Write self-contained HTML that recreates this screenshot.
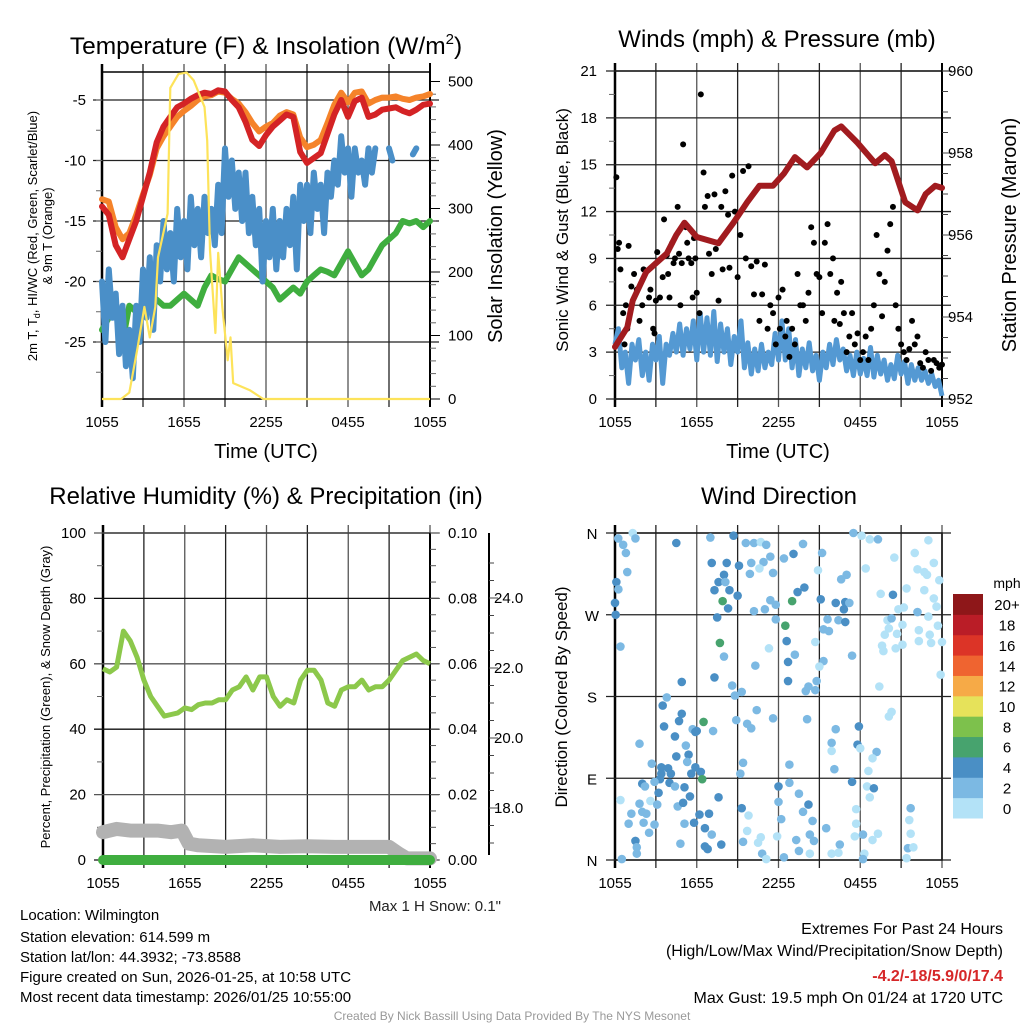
<!DOCTYPE html>
<html><head><meta charset="utf-8"><style>
html,body{margin:0;padding:0;background:#fff;}
svg{display:block;font-family:"Liberation Sans",Arial,sans-serif;}
</style></head><body>
<svg id="s" width="1024" height="1024" viewBox="0 0 1024 1024" xmlns="http://www.w3.org/2000/svg">
<rect width="1024" height="1024" fill="#fff"/>
<g id="g1"></g>
<g id="g2"></g>
<g id="g3"></g>
<g id="g4"></g>
<g id="txt">
<text x="266" y="54" font-size="24.5" text-anchor="middle">Temperature (F) &amp; Insolation (W/m<tspan font-size="15" dy="-10">2</tspan><tspan dy="10">)</tspan></text>
<text x="777" y="47" font-size="24" text-anchor="middle">Winds (mph) &amp; Pressure (mb)</text>
<text x="266" y="504" font-size="24" text-anchor="middle">Relative Humidity (%) &amp; Precipitation (in)</text>
<text x="779" y="504" font-size="24" text-anchor="middle">Wind Direction</text>
<text x="266" y="458" font-size="20" text-anchor="middle">Time (UTC)</text>
<text x="778" y="458" font-size="20" text-anchor="middle">Time (UTC)</text>
<text transform="translate(37,236) rotate(-90)" font-size="13" text-anchor="middle">2m T, T<tspan font-size="9" dy="3">d</tspan><tspan dy="-3">, HI/WC (Red, Green, Scarlet/Blue)</tspan></text>
<text transform="translate(52,236) rotate(-90)" font-size="13" text-anchor="middle">&amp; 9m T (Orange)</text>
<text transform="translate(502,236) rotate(-90)" font-size="20" text-anchor="middle">Solar Insolation (Yellow)</text>
<text transform="translate(568,230) rotate(-90)" font-size="17" text-anchor="middle">Sonic Wind &amp; Gust (Blue, Black)</text>
<text transform="translate(1016,235) rotate(-90)" font-size="20" text-anchor="middle">Station Pressure (Maroon)</text>
<text transform="translate(50,697) rotate(-90)" font-size="13" text-anchor="middle">Percent, Precipitation (Green), &amp; Snow Depth (Gray)</text>
<text transform="translate(567,697) rotate(-90)" font-size="17" text-anchor="middle">Direction (Colored By Speed)</text>
<text x="501" y="911" font-size="15" text-anchor="end" fill="#222">Max 1 H Snow: 0.1"</text>
<g font-size="15" fill="#000">
<text x="20" y="920">Location: Wilmington</text>
<text x="20" y="942">Station elevation: 614.599 m</text>
<text x="20" y="962">Station lat/lon: 44.3932; -73.8588</text>
<text x="20" y="982">Figure created on Sun, 2026-01-25, at 10:58 UTC</text>
<text x="20" y="1002">Most recent data timestamp: 2026/01/25 10:55:00</text>
<text x="1003" y="934" font-size="16" text-anchor="end">Extremes For Past 24 Hours</text>
<text x="1003" y="956" font-size="16" text-anchor="end">(High/Low/Max Wind/Precipitation/Snow Depth)</text>
<text x="1003" y="981" font-size="16" font-weight="bold" fill="#d62728" text-anchor="end">-4.2/-18/5.9/0/17.4</text>
<text x="1003" y="1003" font-size="16" text-anchor="end">Max Gust: 19.5 mph On 01/24 at 1720 UTC</text>
</g>
<text x="512" y="1020" font-size="12" fill="#999" text-anchor="middle">Created By Nick Bassill Using Data Provided By The NYS Mesonet</text>
</g>
</svg>
<script>
// ---------- data ----------
const xTickLabels = ["1055","1655","2255","0455","1055"];
const tempTicks = [-5,-10,-15,-20,-25];
const solarTicks = [0,100,200,300,400,500];
const windTicks = [0,3,6,9,12,15,18,21];
const presTicks = [952,954,956,958,960];
const rhTicks = [0,20,40,60,80,100];
const precipTicks = ["0.00","0.02","0.04","0.06","0.08","0.10"];
const snowTicks = [18,20,22,24];
const dirLabels = ["N","E","S","W","N"];
const speedLabels = ["0","2","4","6","8","10","12","14","16","18","20+"];
const speedColors = ["#b3e2f7","#7cb9e3","#4a8fc5","#47a36e","#7dc14c","#e6e25a","#f6aa47","#ef6430","#dc3427","#ba1d27","#8e1719"];

const hours = [0,0.5,1,1.5,2,2.5,3,3.5,4,4.5,5,5.5,6,6.5,7,7.5,8,8.5,9,9.5,10,10.5,11,11.5,12,12.5,13,13.5,14,14.5,15,15.5,16,16.5,17,17.5,18,18.5,19,19.5,20,20.5,21,21.5,22,22.5,23,23.5,24];
const tempRed = [-13.8,-14.5,-17,-18,-16.5,-15,-13,-11,-8.5,-7.2,-6.4,-5.6,-5.3,-4.9,-4.6,-4.4,-4.5,-4.2,-4.3,-5,-5.6,-6.8,-8.3,-8.8,-7.9,-7.2,-6.7,-6.2,-6.4,-9.3,-10.2,-9.8,-9.4,-7.8,-6.2,-5,-6.4,-5.1,-4.8,-6.4,-6.2,-5.8,-5.7,-5.6,-5.9,-6.1,-5.8,-5.4,-5.3];
const tempOrange = [-13.2,-13.4,-15.5,-16.5,-16,-14.5,-12.8,-11.2,-9,-8,-7.2,-6.4,-5.9,-5.5,-5,-4.7,-4.6,-4.3,-4.4,-4.9,-5.3,-6,-6.9,-7.6,-7.2,-6.9,-6.3,-6.0,-6.2,-8.1,-8.9,-8.7,-8.3,-6.9,-5.4,-4.4,-5.2,-4.4,-4.3,-5.3,-5.0,-4.8,-4.8,-4.7,-4.9,-5.0,-4.8,-4.7,-4.5];
const tempGreen = [-24,-23,-22.5,-25,-22,-22.5,-22,-21.5,-21.5,-22,-22,-21.5,-21,-21.5,-22,-20.5,-19.5,-19.8,-20,-19,-18,-18.5,-19,-19.5,-20,-20.5,-21.5,-21,-20.5,-21,-20,-19.5,-19,-19.2,-19.5,-18.5,-17.5,-18.5,-19.5,-19,-18,-17,-16.5,-16,-15,-15.2,-15,-15.5,-15];
// quarter-hour series (index i -> hour i/4)
const tempBlueQ = [-20,
 -25,-19,-23,-21, -26,-22,-27,-24, -28,-22,-25,-19, -23,-18,-24,-17,
 -20,-15,-19,-16, -20,-14,-18,-15, -19,-13,-17,-14, -18,-13,-16,-14,
 -17,-12,-16,-9, -13,-10,-14,-11, -15,-11,-16,-13, -17,-14,-20,-15,
 -18,-14,-19,-15, -18,-14,-17,-13, -19,-12,-15,-12, -16,-11,-14,-12,
 -16,-11,-13,-10, -12,-8,-11,-9, -13,-9,-11,-10, -12,-9,-11,-9,
 null,null,null,-9, -10,null,null,null, null,null,-9.5,-9, null,null,null,null];
const sonicWindQ = [3.5,
 4.5,2,3,1, 3.5,2.5,3.8,1.5,
 3,1.2,3.5,2.5, 4,1,3.5,2.8,
 4.2,3,4.8,2.8, 4.5,3.2,5,2.5,
 5.5,3,5.2,2.8, 5.6,2.4,4.8,3,
 4.5,2.2,4,3, 5,2,3.6,1.6,
 3.2,1.8,3.5,2, 3,2.2,4.2,2.5,
 5,2.5,4.5,2, 3.8,1.5,3.2,2,
 3.6,1.8,2.8,1.2, 3,2,3.5,2.2,
 3.8,2.5,3.2,1.8, 2.8,1.5,3,1.6,
 2.6,1.5,3.3,1.4, 2.8,1.6,2.5,1.2,
 2.2,1.3,2.8,1.6, 2.4,1.0,2.2,1.2,
 2,1.2,1.8,1, 1.6,0.8,1.2,0.2];
const solarHours = [0,1.4,2,2.6,3.1,3.5,3.9,4.1,4.8,5,5.6,6.2,6.7,7.5,7.7,7.9,8.3,8.5,8.8,9.2,9.4,9.6,10.8,11.8,24];
const solarVals = [0,0,10,80,145,97,145,223,292,490,512,514,502,460,407,234,104,230,145,61,97,25,14,0,0];

const pressHours = [0,0.9,1.3,2.3,3.8,4.5,5.1,6,7.6,8.7,9.7,10.6,11.6,12.4,13.2,14.1,15.1,16.1,16.6,17.8,19.1,19.8,20.3,21.3,22.2,22.8,23.5,24];
const pressure = [953.27,953.75,954.4,955.1,955.55,956.0,956.3,955.95,955.8,956.3,956.8,957.2,957.2,957.5,957.9,957.65,958.0,958.55,958.65,958.25,957.75,957.95,957.8,956.8,956.6,957.0,957.2,957.15];
const gustHours = [0.1,0.2,0.3,0.4,0.6,0.7,0.8,0.9,1.0,1.2,1.4,1.6,1.8,2.0,2.1,2.3,2.5,2.6,2.8,2.9,3.0,3.1,3.3,3.5,3.6,3.8,3.9,4.0,4.2,4.3,4.4,4.6,4.7,4.8,4.9,5.0,5.2,5.3,5.4,5.6,5.7,5.8,5.9,6.0,6.2,6.3,6.5,6.6,6.8,6.9,7.1,7.3,7.4,7.6,7.8,7.9,8.1,8.3,8.4,8.6,8.8,9.0,9.2,9.4,9.6,9.8,10.0,10.2,10.4,10.6,10.8,11.0,11.2,11.4,11.6,11.8,12.0,12.1,12.3,12.5,12.6,12.8,13.0,13.2,13.4,13.6,13.8,14.0,14.2,14.4,14.6,14.8,15.0,15.2,15.4,15.6,15.8,16.0,16.1,16.3,16.5,16.6,16.8,17.0,17.2,17.4,17.6,17.8,18.0,18.2,18.4,18.6,18.8,19.0,19.2,19.4,19.6,19.8,20.0,20.2,20.4,20.6,20.8,21.0,21.2,21.4,21.6,21.8,22.0,22.2,22.4,22.6,22.8,23.0,23.2,23.4,23.6,23.8,24.0];
const gustVals = [14.2,9.6,10,8.3,5.5,3.5,6,4.5,9.8,7.2,8,7,5,6,8.3,8.2,6.5,7,4.5,4.2,6.3,9.4,6.5,7.8,11.5,9.2,8,6.5,10,8.7,9,12.3,9.3,6,8.7,16.3,11,10,9,8.7,6.5,10.3,9,6.8,5.5,19.5,14.5,12.3,13,9.3,8,13.1,9.6,6.3,12.3,8.3,13.3,11.8,8.4,14.3,12,7.8,10.5,14.6,9,14.9,8.5,6.7,8.8,5,6.7,8.6,4.5,6,5.5,3.5,6.5,4.5,7,4,5,2.7,4.5,3.5,8,6,6,5,6.8,11,10,8,7.8,5.5,10,11.2,8,9,5,6.8,4.8,7.5,5.5,3,4,5.5,3.5,4.2,2.5,3,4,2.5,4.5,6,10.5,8,5.3,7.5,9.5,11.2,12.3,6,4.5,3.5,3,2.5,3.2,5,3.5,4,2.3,2,3,2.5,1.8,2.5,2.3,2,2.2,1.8,1.5,1.4,1.3];

const rhVals = [58.5,57.5,59,70,67,62,55,50,47,44,44.5,45,46.5,46,47.5,48,48,49,49,52,53,56,52,56,56,50,47,49,48,55,58,58,55,48,47,52,53,53,55,52,53,53,55,58,61,62,63,61,60];
const snowHours = [0,1,2,3,4,5,5.8,6.3,7,9,11,13,15,17,19,20.5,21,21.7,22.3,24];
const snowVals = [8.5,9.5,9,9,9,8.5,9,5,4.5,4,4.5,4,4.2,4,4,4,4,2,0.5,0.5];
const precipHours = [0,24];
const precipVals = [0,0];

const dirHours = [0.24,0.6,1.3,1.5,0.8,0.1,0.25,0,0.05,0.9,0.4,4.5,7,8.7,7.1,8.2,9.1,8,7.6,7.3,8.4,9,7.9,8.3,7.5,8.1,9.6,10.2,10.7,11.1,10,10.9,11.4,9.9,10.6,11.6,12.4,13.1,13.8,13.4,13.9,13,11.4,11.8,10.2,11,11.8,12.5,7.7,8,11.3,12.6,13.2,12.7,10.3,7.3,8.6,9.3,8.8,12.7,14,14.2,14.8,14.7,14.7,15.2,14.9,15.1,15.6,15.3,15.7,15.3,15,16.2,16.9,16.6,17,17.2,16.8,16.4,16.9,17.4,17.5,18.1,18.7,19.3,18.4,20.5,19.5,20.4,22,22.2,22.7,22.9,23.4,23,21.4,22.7,23.8,23.4,23.6,20.8,21.2,22.2,23,23.7,24,20,20.3,20.1,19.8,20.7,21.1,22.3,23.1,19.6,19.7,20.6,21.1,22.3,23.2,23.9,19.4,20.3,20.1,3.8,3.5,4.9,4.9,4.7,3.6,4.4,4.5,5.4,5.2,5.7,5.9,6,6.5,7.2,1.8,2.7,3.4,3.9,4.1,3.4,3.3,2.9,2,2.2,4,4.4,3.2,5.1,5.3,5.6,5.9,6.3,6.4,5.5,7.6,9.2,9.4,8.9,9.7,10,10.4,11.6,14.1,12.8,12,12.8,13.5,14.2,13.8,12,12.2,14.5,0.4,1.2,1,1.8,2,2.3,2.1,2.5,2.6,3.1,2.9,1.5,1.6,1.6,0.5,4.6,5,5.1,5.8,6.2,6.9,6.6,7.1,6.6,6.8,7.8,4.8,9.3,9.8,9.7,9.4,10.5,10.7,10.8,11.1,11.9,12.4,13.3,13.5,14.3,14.6,14.3,15.5,16.5,16.4,15.9,16.2,15.9,15.9,16.1,17.4,17.7,17.7,17.6,18.2,18.3,18.2,17.9,17.8,18,19.2,18.9,18.6,18.5,19,18.7,18.9,19.3,21.7,21.6,21.7,21.5,21.9,21.4];
const dirVals = [354,347,360,354,338,306,298,283,270,317,235,349,355,357,327,327,324,314,306,297,297,291,285,277,267,306,349,349,350,347,327,328,334,315,321,316,332,337,348,295,300,285,286,281,274,276,265,258,239,224,233,241,226,218,214,201,192,185,181,197,186,191,197,187,240,338,319,287,265,254,252,219,213,283,284,309,314,283,276,264,262,225,360,357,353,353,321,333,293,292,338,320,317,314,327,352,299,297,308,288,279,276,278,273,268,258,240,264,266,255,248,249,259,253,248,236,230,233,237,241,239,204,191,163,158,179,170,196,161,153,147,136,114,116,126,144,141,142,152,142,128,106,102,101,95,95,89,86,84,81,85,81,74,80,108,95,102,97,89,70,69,95,107,154,150,145,165,156,155,105,81,85,73,61,53,64,45,43,66,51,40,62,53,51,41,30,65,61,39,21,14,7,1,59,63,40,41,50,51,35,28,15,12,17,18,57,49,32,20,19,25,7,1,26,3,22,10,28,21,7,35,17,8,7,144,129,120,100,86,56,40,26,28,7,1,147,127,123,119,112,98,81,79,69,22,29,57,44,29,13,14,2];
const dirSpeed = [2,2,0,2,2,4,2,4,4,2,2,4,2,4,4,4,4,4,4,4,4,4,6,4,4,2,2,2,0,2,2,2,2,2,0,2,2,4,2,4,4,6,2,2,2,2,2,6,6,2,0,4,2,4,2,4,2,2,2,4,2,2,2,2,0,2,0,4,2,2,2,2,0,4,4,2,2,2,4,2,4,2,2,0,0,2,0,0,0,4,0,0,0,0,0,0,0,0,0,0,0,0,0,2,0,0,0,0,2,0,0,0,0,0,0,0,0,0,0,0,0,0,0,0,0,2,4,4,4,4,4,4,4,4,2,2,4,4,6,2,2,2,4,4,4,4,4,2,4,2,4,2,4,4,2,4,4,4,6,4,4,2,2,2,2,2,2,2,2,2,4,2,2,4,2,2,2,2,0,2,2,2,2,2,2,2,0,2,2,4,2,2,2,2,4,2,4,4,4,4,2,4,4,4,2,4,0,0,2,0,0,2,0,0,2,2,2,2,2,0,2,2,0,0,2,2,0,2,4,0,0,0,2,0,2,4,4,0,2,0,0,0,4,0,0,0,2,0,0,2,0,0,0,0,0,0];

// ---------- helpers ----------
const NS="http://www.w3.org/2000/svg";
function mk(parent,tag,attrs){const e=document.createElementNS(NS,tag);for(const k in attrs)e.setAttribute(k,attrs[k]);parent.appendChild(e);return e;}
function txt(parent,x,y,s,size,anchor){const e=mk(parent,"text",{x:x,y:y,"font-size":size,"text-anchor":anchor});e.textContent=s;return e;}
function pathFrom(xs,ys,fx,fy){let d="",pen=false;for(let i=0;i<xs.length;i++){if(ys[i]===null||ys[i]===undefined){pen=false;continue;}d+=(pen?"L":"M")+fx(xs[i]).toFixed(1)+","+fy(ys[i]).toFixed(1);pen=true;}return d;}
const quarterHours = tempBlueQ.map((v,i)=>i/4);

function frame(g,L,R,T,B,name){
  for(let i=0;i<=8;i++){const x=L+(R-L)*i/8;
    const l=mk(g,"line",{x1:x,x2:x,y1:T-8,y2:B+8,stroke:i%2?"#222":"#555","stroke-width":1.3});
    
    
  }
  const b=mk(g,"rect",{x:L,y:T,width:R-L,height:B-T,fill:"none",stroke:"#000","stroke-width":1.5});
  
  
  const lx=mk(g,"line",{x1:L,x2:L,y1:T-8,y2:B+8,stroke:"#000","stroke-width":2.5});
  
  
  xTickLabels.forEach((s,i)=>{const t=txt(g,L+(R-L)*i/4,B+28,s,15,"middle");
    
    });
}
function hline(g,L,R,y,color){const l=mk(g,"line",{x1:L-9,x2:R+9,y1:y,y2:y,stroke:color||"#222","stroke-width":1.3});
  
  }
function minorTicks(g,x,y0,y1,step,dir){for(let y=y0;y>=y1-0.1;y-=step){mk(g,"line",{x1:x,x2:x+dir*6,y1:y,y2:y,stroke:"#666","stroke-width":1});}}

// ---------- panel 1 ----------
(function(){
  const g=document.getElementById("g1");const L=102,R=430,T=72,B=399;
  const fx=t=>L+t*(R-L)/24, fy=v=>100+(-5-v)*12.1, fs=v=>B-v*0.635;
  frame(g,L,R,T,B,"temp");
  tempTicks.forEach(v=>{hline(g,L,R,fy(v));const t=txt(g,86,fy(v)+5,String(v),15,"end");
    
    });
  minorTicks(g,L,fy(-27.5),T,30.25,-1);
  mk(g,"line",{x1:R,x2:R,y1:63,y2:B+8,stroke:"#000","stroke-width":2});
  for(let v=0;v<=500;v+=20){mk(g,"line",{x1:R,x2:R+(v%100?6:10),y1:fs(v),y2:fs(v),stroke:v%100?"#666":"#000","stroke-width":1});}
  solarTicks.forEach(v=>{const t=txt(g,448,fs(v)+5,String(v),15,"start");
    
    });
  const gr=mk(g,"path",{d:pathFrom(hours,tempGreen,fx,fy),fill:"none",stroke:"#3fae3f","stroke-width":6,"stroke-linejoin":"round","stroke-linecap":"round"});
  
  
  const bl=mk(g,"path",{d:pathFrom(quarterHours,tempBlueQ,fx,fy),fill:"none",stroke:"#4a8fc8","stroke-width":6,"stroke-linejoin":"round","stroke-linecap":"round"});
  
  
  const or=mk(g,"path",{d:pathFrom(hours,tempOrange,fx,fy),fill:"none",stroke:"#f5832a","stroke-width":6,"stroke-linejoin":"round","stroke-linecap":"round"});
  
  
  const rd=mk(g,"path",{d:pathFrom(hours,tempRed,fx,fy),fill:"none",stroke:"#d42325","stroke-width":6,"stroke-linejoin":"round","stroke-linecap":"round"});
  
  
  const y=mk(g,"path",{d:pathFrom(solarHours,solarVals,fx,fs),fill:"none",stroke:"#fde35a","stroke-width":2.2,"stroke-linejoin":"round"});
  
  
})();

// ---------- panel 2 ----------
(function(){
  const g=document.getElementById("g2");const L=615,R=942,T=71,B=399;
  const fx=t=>L+t*(R-L)/24, fw=v=>B-v*(B-T)/21, fp=p=>B-(p-952)*(B-T)/8;
  frame(g,L,R,T,B,"winds");
  windTicks.forEach(v=>{hline(g,L,R,fw(v));const t=txt(g,597,fw(v)+5,String(v),15,"end");
    
    });
  for(let v=1.5;v<21;v+=3){mk(g,"line",{x1:L,x2:L-6,y1:fw(v),y2:fw(v),stroke:"#666","stroke-width":1});}
  mk(g,"line",{x1:R,x2:R,y1:63,y2:B+8,stroke:"#000","stroke-width":2});
  for(let p=952;p<=960.01;p+=0.5){mk(g,"line",{x1:R,x2:R+(Math.abs(p-Math.round(p))<0.01&&Math.round(p)%2===0?10:6),y1:fp(p),y2:fp(p),stroke:"#444","stroke-width":1});}
  presTicks.forEach(v=>{const t=txt(g,948,fp(v)+5,String(v),15,"start");
    
    });
  const w=mk(g,"path",{d:pathFrom(quarterHours,sonicWindQ,fx,fw),fill:"none",stroke:"#5499d3","stroke-width":5,"stroke-linejoin":"round"});
  
  
  gustHours.forEach((t,i)=>{const c=mk(g,"circle",{cx:fx(t),cy:fw(gustVals[i]),r:3,fill:"#000"});
    
    });
  const p=mk(g,"path",{d:pathFrom(pressHours,pressure,fx,fp),fill:"none",stroke:"#a11b1f","stroke-width":6,"stroke-linejoin":"round","stroke-linecap":"round"});
  
  
})();

// ---------- panel 3 ----------
(function(){
  const g=document.getElementById("g3");const L=103,R=430,T=533,B=860;
  const fx=t=>L+t*(R-L)/24, fy=v=>B-v*(B-T)/100, fsn=v=>808-(v-18)*35;
  frame(g,L,R,T,B,"humidity");
  rhTicks.forEach((v,i)=>{hline(g,L,R,fy(v),i%2?"#555":"#111");const t=txt(g,86,fy(v)+5,String(v),15,"end");
    
    
    const t2=txt(g,448,fy(v)+5,precipTicks[i],15,"start");
    
    });
  for(let v=10;v<100;v+=20){mk(g,"line",{x1:L,x2:L-6,y1:fy(v),y2:fy(v),stroke:"#666"});}
  mk(g,"line",{x1:R,x2:R,y1:T,y2:B+8,stroke:"#000","stroke-width":2});
  for(let v=0;v<=100;v+=5){mk(g,"line",{x1:R,x2:R+(v%20?6:10),y1:fy(v),y2:fy(v),stroke:"#555"});}
  const ax=mk(g,"line",{x1:489,x2:489,y1:T,y2:B-5,stroke:"#000","stroke-width":2});
  
  
  for(let v=17;v<=25.3;v+=0.5){const y=fsn(v);if(y<T||y>B-5)continue;mk(g,"line",{x1:489,x2:489+(Math.abs(v-Math.round(v))<0.01&&Math.round(v)%2===0?9:5),y1:y,y2:y,stroke:"#444"});}
  snowTicks.forEach(v=>{const t=txt(g,494,fsn(v)+5,v.toFixed(1),15,"start");
    
    });
  const s=mk(g,"path",{d:pathFrom(snowHours,snowVals,fx,fy),fill:"none",stroke:"#b2b2b2","stroke-width":14,"stroke-linejoin":"round","stroke-linecap":"round"});
  
  
  const pr=mk(g,"path",{d:pathFrom(precipHours,precipVals,fx,fy),fill:"none",stroke:"#3fae3f","stroke-width":10,"stroke-linecap":"round"});
  
  
  const rh=mk(g,"path",{d:pathFrom(hours,rhVals,fx,fy),fill:"none",stroke:"#8cc84b","stroke-width":5,"stroke-linejoin":"round"});
  
  
})();

// ---------- panel 4 ----------
(function(){
  const g=document.getElementById("g4");const L=615,R=942,T=533,B=860;
  const fx=t=>L+t*(R-L)/24, fy=d=>B-d*(B-T)/360;
  frame(g,L,R,T,B,"direction");
  dirLabels.forEach((s,i)=>{hline(g,L,R,fy(i*90));const t=txt(g,592,fy(i*90)+6,s,15,"middle");
    
    });
  dirHours.forEach((t,i)=>{const c=mk(g,"circle",{cx:fx(t),cy:fy(dirVals[i]),r:4.3,fill:speedColors[Math.min(10,Math.floor(dirSpeed[i]/2))]});
    
    });
  const lg=mk(g,"g",{});
  
  
  const t0=txt(lg,1007,588,"mph",14,"middle");
  
  
  const h=(818-594)/11;
  speedLabels.forEach((s,i)=>{const y=594+(10-i)*h;
    const r=mk(lg,"rect",{x:953,y:y,width:30,height:h+0.5,fill:speedColors[i]});
    
    
    const t=txt(lg,1007,y+h/2+6,s,15,"middle");
    
    });
})();
</script>
</body></html>
